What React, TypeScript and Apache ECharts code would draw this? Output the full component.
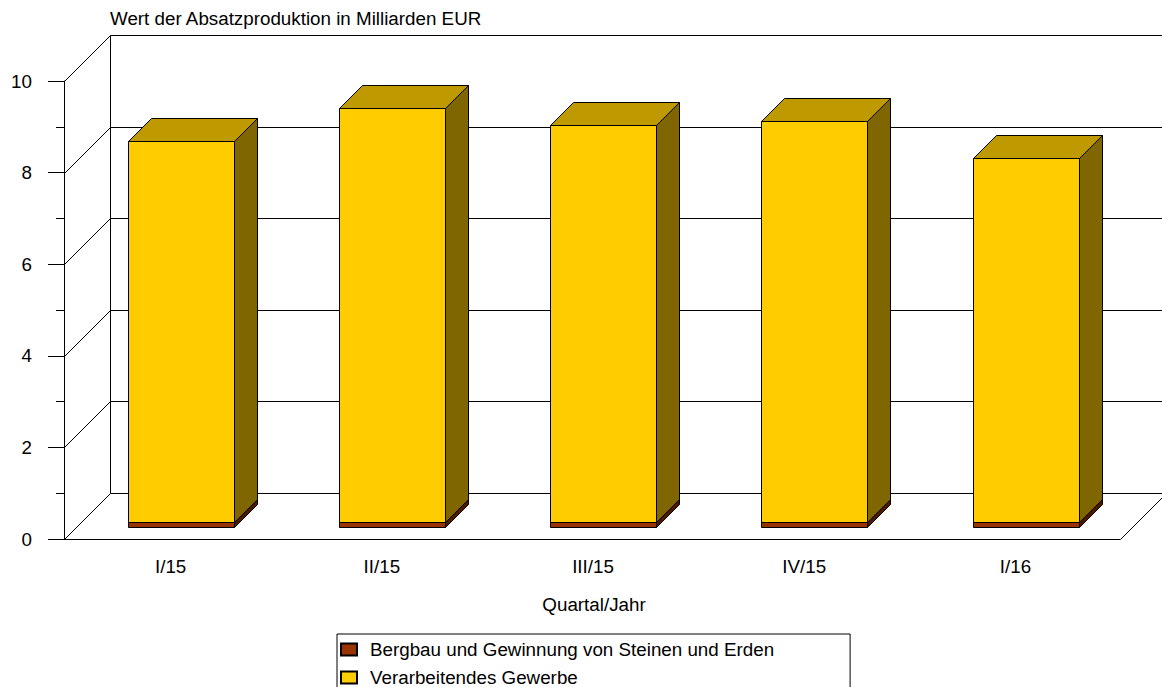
import React, { useEffect, useRef } from "react";
import * as echarts from "echarts";

const categories = ["I/15", "II/15", "III/15", "IV/15", "I/16"];
const bergbau = [0.11, 0.11, 0.12, 0.12, 0.11];
const gewerbe = [8.32, 9.04, 8.65, 8.74, 7.94];
const wallTicks = [0, 2, 4, 6, 8, 10];
const yTop = 10;

const FONT = "'Liberation Sans', Arial, sans-serif";
const FONT_SIZE = 18.8;
const DEPTH = 46;
const BAR_DEPTH = 23;
const BAR_WIDTH = 105.5;
const BLACK = "#000";

function crisp(n: number) {
  return Math.round(n - 0.5) + 0.5;
}

function line(x1: number, y1: number, x2: number, y2: number) {
  return { type: "line", shape: { x1, y1, x2, y2 }, style: { stroke: BLACK, lineWidth: 1, fill: "none" } };
}

function poly(points: number[][], fill: string) {
  return { type: "polygon", shape: { points }, style: { fill, stroke: BLACK, lineWidth: 1 } };
}

function wallItem(params: any, api: any) {
  const v = api.value(1);
  const band = api.size([1, 0])[0];
  const p = api.coord([0, v]);
  const left = crisp(p[0] - band / 2);
  const y = Math.round(p[1]) + 0.5;
  const right = left + band * categories.length;
  const children: any[] = [
    line(left, y, left + DEPTH, y - DEPTH),
    line(left + DEPTH, y - DEPTH, right + DEPTH, y - DEPTH),
  ];
  if (v === 0) {
    children.push(line(right, y, right + DEPTH, y - DEPTH));
    children.push(line(left + DEPTH, y - DEPTH, left + DEPTH, y - DEPTH - api.size([0, yTop])[1]));
  }
  return { type: "group", children };
}

function boxRenderer(lower: number[], colors: string[]) {
  return (params: any, api: any) => {
    const i = params.dataIndex;
    const c = api.value(0);
    const base = lower[i];
    const top = base + api.value(1);
    const center = api.coord([c, 0])[0] + BAR_DEPTH / 2;
    const xl = crisp(center - BAR_WIDTH / 2);
    const xr = xl + Math.round(BAR_WIDTH);
    const yb = crisp(api.coord([c, base])[1] - BAR_DEPTH / 2);
    const yt = crisp(api.coord([c, top])[1] - BAR_DEPTH / 2);
    const d = BAR_DEPTH;
    return {
      type: "group",
      children: [
        poly([[xl, yt], [xl + d, yt - d], [xr + d, yt - d], [xr, yt]], colors[1]),
        poly([[xr, yt], [xr + d, yt - d], [xr + d, yb - d], [xr, yb]], colors[2]),
        poly([[xl, yt], [xr, yt], [xr, yb], [xl, yb]], colors[0]),
      ],
    };
  };
}

export default function App() {
  const ref = useRef<HTMLDivElement>(null);
  useEffect(() => {
    const chart = echarts.init(ref.current!, null, { renderer: "svg" });
    const zero = categories.map(() => 0);
    const border = { borderColor: BLACK, borderWidth: 1 };
    chart.setOption({
      animation: false,
      backgroundColor: "#fff",
      title: {
        text: "Wert der Absatzproduktion in Milliarden EUR",
        left: 105,
        top: 4,
        textStyle: { fontFamily: FONT, fontSize: FONT_SIZE, fontWeight: "normal", color: "#000" },
      },
      grid: { left: 64, top: 81, width: 1056, height: 458 },
      legend: {
        orient: "vertical",
        left: 337,
        top: 634,
        height: 100,
        padding: [6, 76, 20, 3],
        borderColor: "#000",
        borderWidth: 1,
        icon: "rect",
        itemWidth: 16,
        itemHeight: 12,
        itemGap: 9,
        selectedMode: false,
        data: ["Bergbau und Gewinnung von Steinen und Erden", "Verarbeitendes Gewerbe"],
        textStyle: { fontFamily: FONT, fontSize: FONT_SIZE, color: "#000", padding: [0, 0, 0, 8] },
      },
      xAxis: {
        type: "category",
        data: categories,
        name: "Quartal/Jahr",
        nameLocation: "middle",
        nameGap: 56,
        nameTextStyle: { fontFamily: FONT, fontSize: FONT_SIZE, color: "#000", padding: [0, 0, 0, 4] },
        axisTick: { show: false },
        axisLine: { lineStyle: { color: "#000", width: 1 } },
        axisLabel: { fontFamily: FONT, fontSize: FONT_SIZE, color: "#000", margin: 18, padding: [0, 0, 0, 2] },
        splitLine: { show: false },
      },
      yAxis: {
        type: "value",
        min: 0,
        max: yTop,
        interval: 2,
        axisLine: { show: true, lineStyle: { color: "#000", width: 1 } },
        axisTick: { show: true, length: 16, lineStyle: { color: "#000", width: 1 } },
        minorTick: { show: true, splitNumber: 2, length: 8, lineStyle: { color: "#000", width: 1 } },
        axisLabel: { fontFamily: FONT, fontSize: FONT_SIZE, color: "#000", margin: 32 },
        splitLine: { show: false },
        minorSplitLine: { show: false },
      },
      series: [
        {
          name: "walls",
          type: "custom",
          z: 1,
          silent: true,
          renderItem: wallItem,
          encode: { x: 0, y: 1 },
          data: wallTicks.map((v) => [0, v]),
        },
        {
          name: "Verarbeitendes Gewerbe",
          type: "custom",
          z: 3,
          itemStyle: { color: "#FFCC00", ...border },
          renderItem: boxRenderer(bergbau, ["#FFCC00", "#BF9900", "#7F6600"]),
          encode: { x: 0, y: 1 },
          data: gewerbe.map((v, i) => [i, v]),
        },
        {
          name: "Bergbau und Gewinnung von Steinen und Erden",
          type: "custom",
          z: 2,
          itemStyle: { color: "#993300", ...border },
          renderItem: boxRenderer(zero, ["#993300", "#732600", "#4D1A00"]),
          encode: { x: 0, y: 1 },
          data: bergbau.map((v, i) => [i, v]),
        },
      ],
    });
    return () => chart.dispose();
  }, []);
  return <div ref={ref} style={{ position: "absolute", left: 0, top: 0, width: 1162, height: 687 }} />;
}
